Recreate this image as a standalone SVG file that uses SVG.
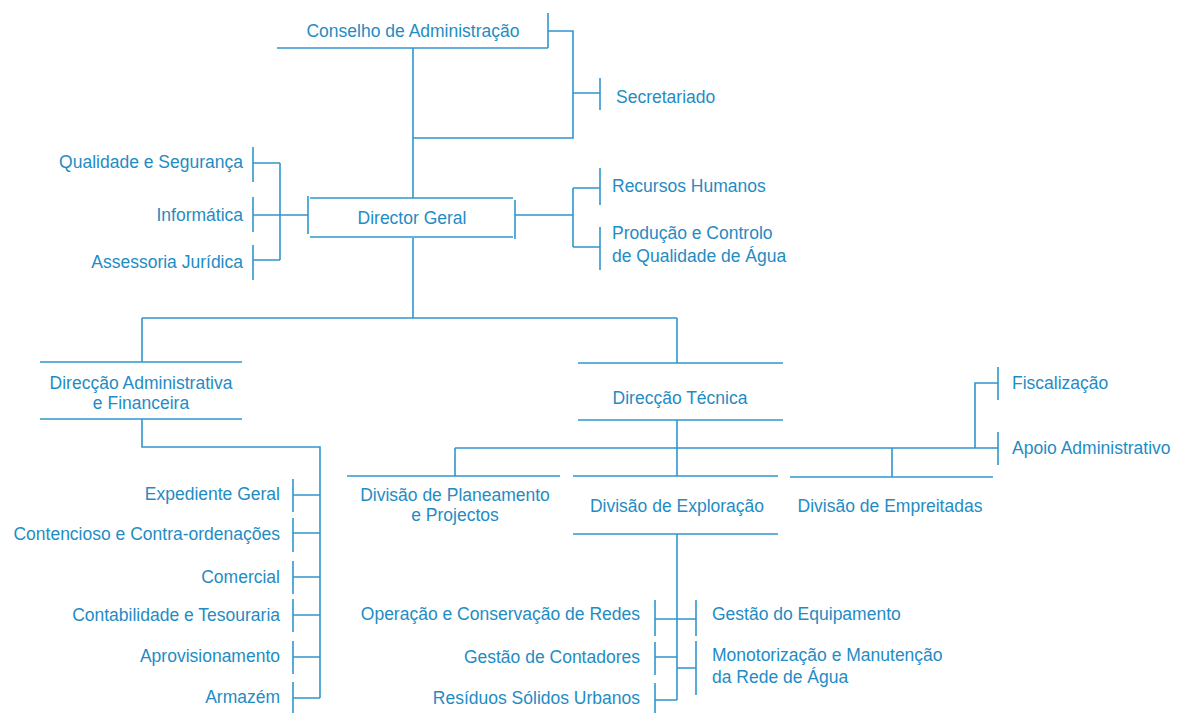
<svg xmlns="http://www.w3.org/2000/svg" width="1185" height="713" viewBox="0 0 1185 713">
<style>
text{font-family:"Liberation Sans",Arial,sans-serif;font-size:17.5px;fill:#1f8cc4}
.m{text-anchor:middle}.e{text-anchor:end}
line,path{stroke:#2f96cd;stroke-width:1.6;fill:none}
</style>
<rect width="1185" height="713" fill="#fff"/>
<g id="connectors">
<path d="M413 48V198M548 31H573V138H413M573 93H600"/>
<path d="M280 163V260M253 163H280M253 215H308M253 260H280"/>
<path d="M515 215H573M573 188V247M573 188H600M573 247H600"/>
<path d="M413 238V318M142 318H677M142 318V362M677 318V363"/>
<path d="M142 419V447H320V698M293 495H320M293 533H320M293 577H320M293 615H320M293 657H320M293 698H320"/>
<path d="M677 420V476M455 448H998M455 448V476M892 448V477M975 448V383H998"/>
<path d="M677 534V700M655 619H696M655 657H677M677 668H696M655 700H677"/>
</g>
<g id="conselho"><line x1="277" y1="48" x2="548" y2="48"/><line x1="548" y1="13" x2="548" y2="48"/><text class="m" x="413" y="37">Conselho de Administração</text></g>
<g id="secretariado"><line x1="600" y1="78" x2="600" y2="110"/><text x="616" y="103">Secretariado</text></g>
<g id="director"><line x1="310" y1="198" x2="513" y2="198"/><line x1="310" y1="237" x2="513" y2="237"/><line x1="308" y1="196" x2="308" y2="234"/><line x1="515" y1="200" x2="515" y2="239"/><text class="m" x="412" y="224">Director Geral</text></g>
<g id="qualidade"><line x1="253" y1="147" x2="253" y2="182"/><text class="e" x="243" y="168">Qualidade e Segurança</text></g>
<g id="informatica"><line x1="253" y1="197" x2="253" y2="232"/><text class="e" x="243" y="221">Informática</text></g>
<g id="assessoria"><line x1="253" y1="245" x2="253" y2="280"/><text class="e" x="243" y="268">Assessoria Jurídica</text></g>
<g id="rh"><line x1="600" y1="168" x2="600" y2="205"/><text x="612" y="192">Recursos Humanos</text></g>
<g id="producao"><line x1="600" y1="227" x2="600" y2="270"/><text x="612" y="239">Produção e Controlo</text><text x="612" y="262">de Qualidade de Água</text></g>
<g id="daf"><line x1="40" y1="362" x2="242" y2="362"/><line x1="40" y1="419" x2="242" y2="419"/><text class="m" x="141" y="389">Direcção Administrativa</text><text class="m" x="141" y="409">e Financeira</text></g>
<g id="expediente"><line x1="293" y1="479" x2="293" y2="512"/><text class="e" x="280" y="500">Expediente Geral</text></g>
<g id="contencioso"><line x1="293" y1="518" x2="293" y2="552"/><text class="e" x="280" y="540">Contencioso e Contra-ordenações</text></g>
<g id="comercial"><line x1="293" y1="561" x2="293" y2="594"/><text class="e" x="280" y="583">Comercial</text></g>
<g id="contabilidade"><line x1="293" y1="599" x2="293" y2="632"/><text class="e" x="280" y="621">Contabilidade e Tesouraria</text></g>
<g id="aprovisionamento"><line x1="293" y1="641" x2="293" y2="674"/><text class="e" x="280" y="662">Aprovisionamento</text></g>
<g id="armazem"><line x1="293" y1="682" x2="293" y2="713"/><text class="e" x="280" y="703">Armazém</text></g>
<g id="dt"><line x1="578" y1="363" x2="783" y2="363"/><line x1="578" y1="420" x2="783" y2="420"/><text class="m" x="680" y="404">Direcção Técnica</text></g>
<g id="dpp"><line x1="347" y1="476" x2="560" y2="476"/><text class="m" x="455" y="501">Divisão de Planeamento</text><text class="m" x="455" y="521">e Projectos</text></g>
<g id="de"><line x1="573" y1="476" x2="778" y2="476"/><line x1="573" y1="534" x2="778" y2="534"/><text class="m" x="677" y="512">Divisão de Exploração</text></g>
<g id="demp"><line x1="790" y1="477" x2="993" y2="477"/><text class="m" x="890" y="512">Divisão de Empreitadas</text></g>
<g id="fiscalizacao"><line x1="998" y1="367" x2="998" y2="400"/><text x="1012" y="389">Fiscalização</text></g>
<g id="apoio"><line x1="998" y1="432" x2="998" y2="465"/><text x="1012" y="454">Apoio Administrativo</text></g>
<g id="operacao"><line x1="655" y1="600" x2="655" y2="636"/><text class="e" x="640" y="620">Operação e Conservação de Redes</text></g>
<g id="contadores"><line x1="655" y1="642" x2="655" y2="675"/><text class="e" x="640" y="663">Gestão de Contadores</text></g>
<g id="residuos"><line x1="655" y1="683" x2="655" y2="713"/><text class="e" x="640" y="704">Resíduos Sólidos Urbanos</text></g>
<g id="equipamento"><line x1="696" y1="600" x2="696" y2="636"/><text x="712" y="620">Gestão do Equipamento</text></g>
<g id="monotorizacao"><line x1="696" y1="641" x2="696" y2="695"/><text x="712" y="661">Monotorização e Manutenção</text><text x="712" y="683">da Rede de Água</text></g>
</svg>
